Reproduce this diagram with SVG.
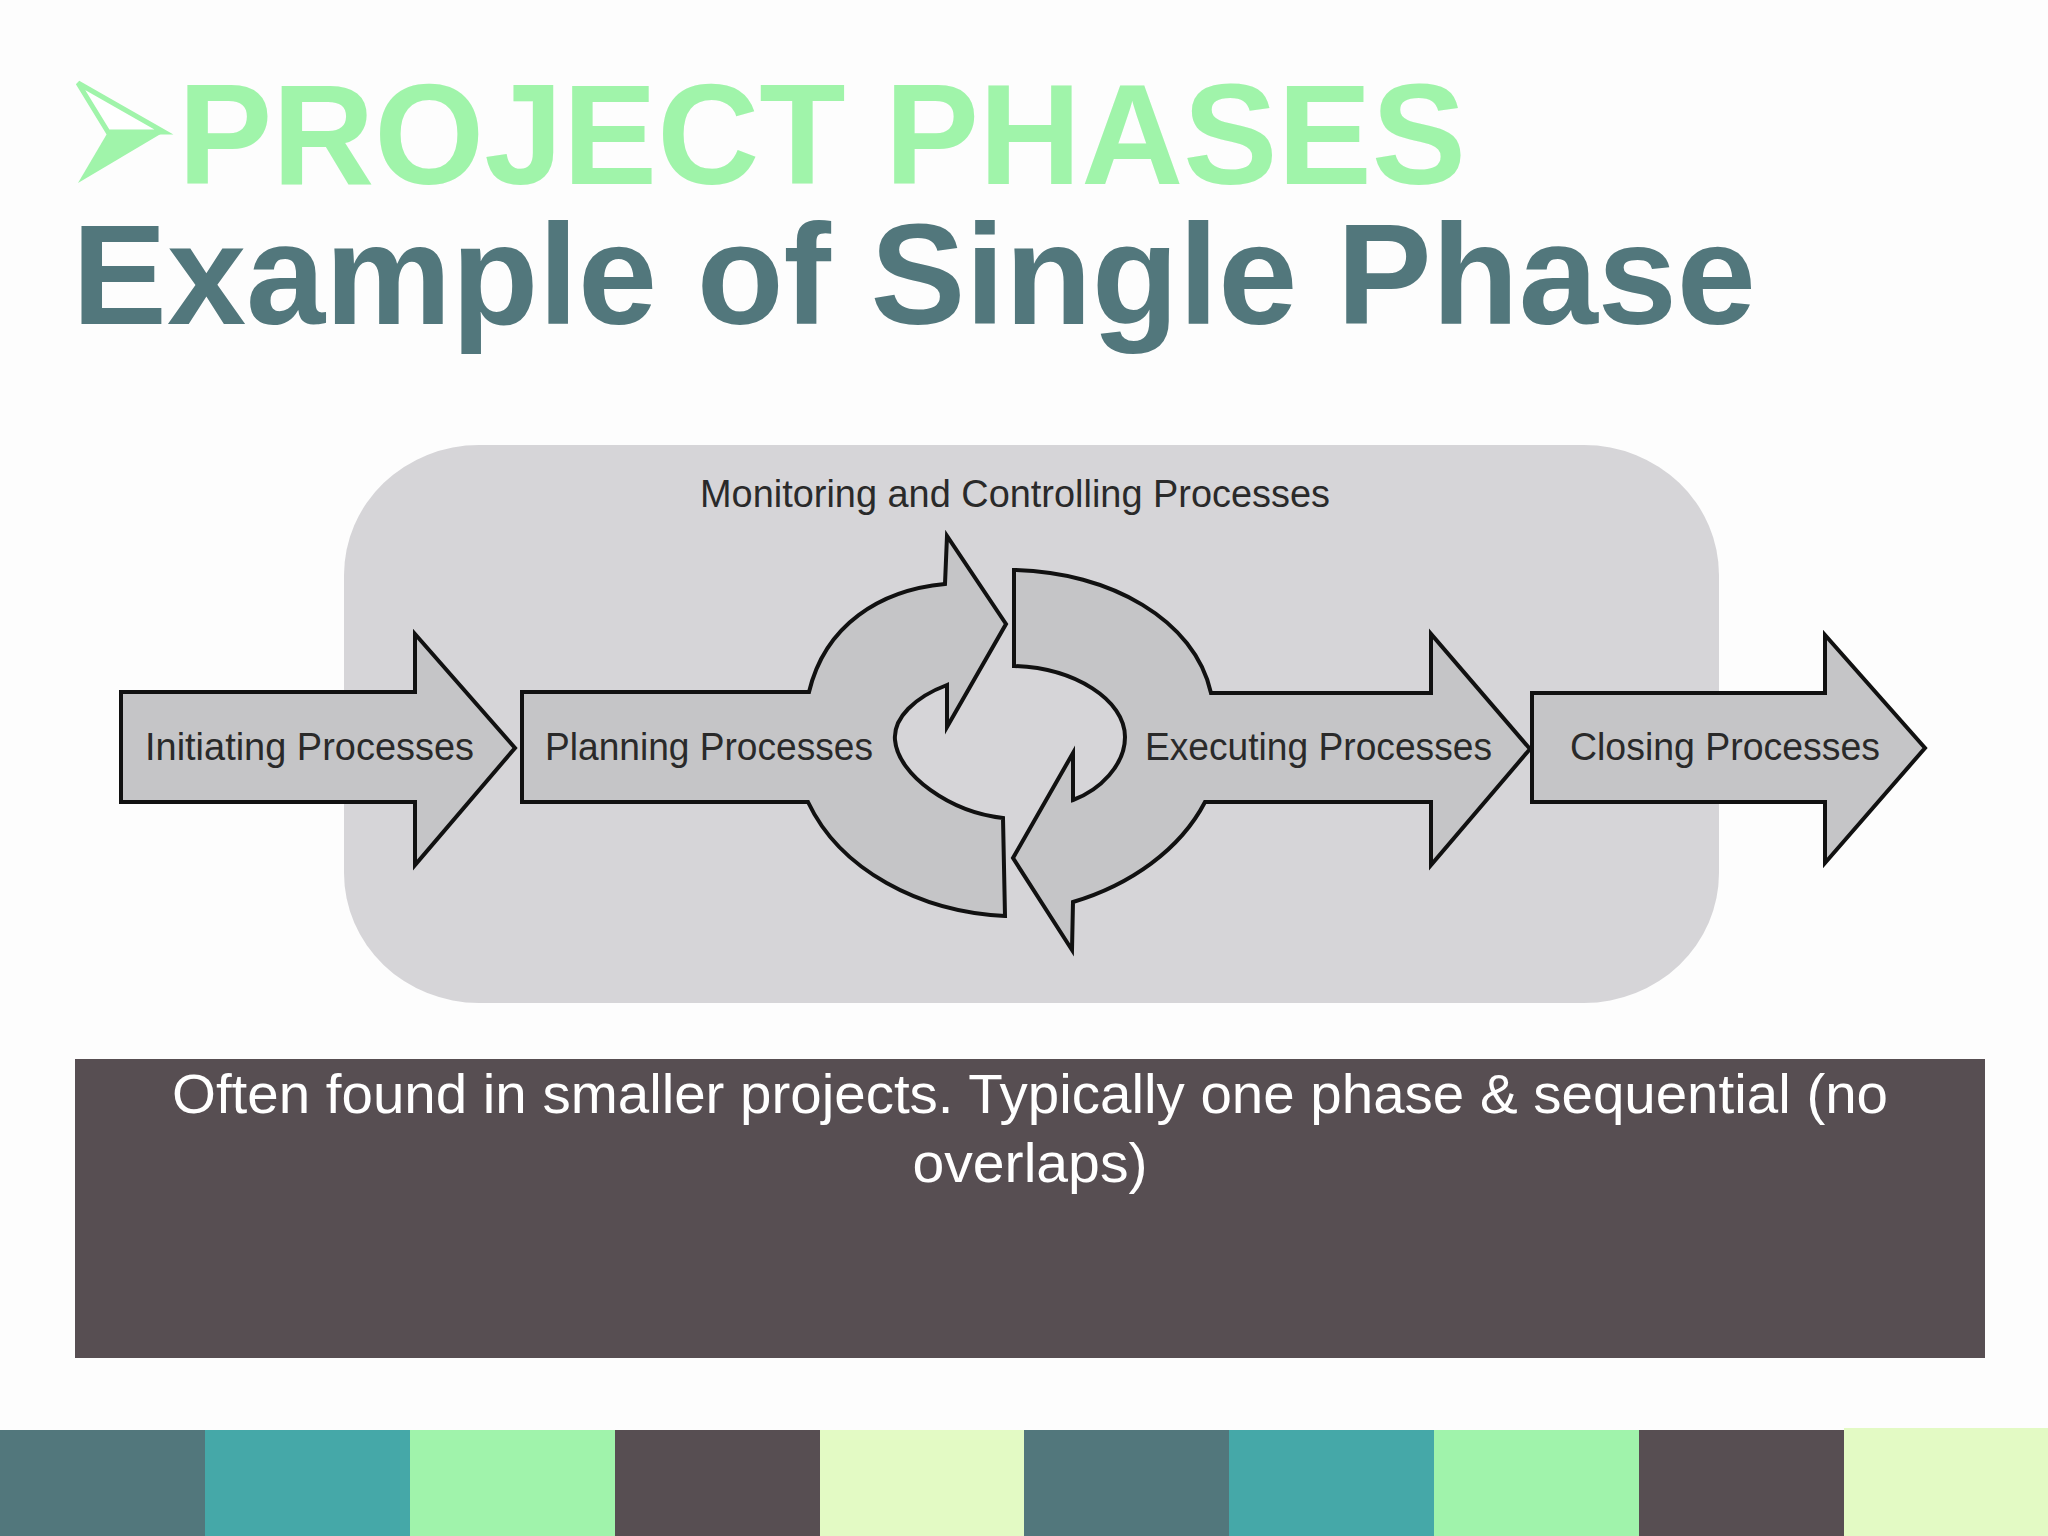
<svg xmlns="http://www.w3.org/2000/svg" width="2048" height="1536" viewBox="0 0 2048 1536">
  <style>
    .arrow { fill: #c5c5c7; stroke: #111; stroke-width: 4; stroke-linejoin: miter; }
    .lbl { font-family: "Liberation Sans", Arial, sans-serif; font-size: 38px; fill: #2a2a2a; }
    .title { font-family: "Liberation Sans", Arial, sans-serif; font-weight: bold; font-size: 142px; }
    .note { font-family: "Liberation Sans", Arial, sans-serif; font-size: 56px; fill: #ffffff; text-anchor: middle; }
  </style>
  <rect x="0" y="0" width="2048" height="1536" fill="#fdfdfd"/>

  <g id="heading">
    <polygon points="78,83 164,132 108,132" fill="#ffffff" stroke="#a0f4aa" stroke-width="5" stroke-linejoin="miter"/>
    <polygon points="108,132 164,132 78,183" fill="#a0f4aa"/>
    <text class="title" x="178" y="184" fill="#a0f4aa" textLength="1288" lengthAdjust="spacingAndGlyphs">PROJECT PHASES</text>
    <text class="title" x="72" y="324" fill="#52777c" textLength="1684" lengthAdjust="spacingAndGlyphs">Example of Single Phase</text>
  </g>

  <g id="monitoring">
    <rect x="344" y="445" width="1375" height="558" rx="135" ry="130" fill="#d6d5d8"/>
    <text class="lbl" x="700" y="507" textLength="630" lengthAdjust="spacingAndGlyphs">Monitoring and Controlling Processes</text>
  </g>

  <g id="initiating">
    <path class="arrow" d="M 121 692 L 415 692 L 415 634 L 515 748 L 415 865 L 415 802 L 121 802 Z"/>
    <text class="lbl" x="145" y="760" textLength="329" lengthAdjust="spacingAndGlyphs">Initiating Processes</text>
  </g>

  <g id="planning">
    <path class="arrow" d="M 522 692 L 809 692 C 825 625, 880 590, 945 584 L 947 536 L 1006 624 L 947 727 L 947 685 C 915 697, 893 718, 895 740 C 898 775, 950 812, 1003 818 L 1005 916 C 920 912, 840 870, 808 802 L 522 802 Z"/>
    <text class="lbl" x="545" y="760" textLength="328" lengthAdjust="spacingAndGlyphs">Planning Processes</text>
  </g>

  <g id="executing">
    <path class="arrow" d="M 1014 570 L 1014 666 C 1075 668, 1125 700, 1125 737 C 1125 765, 1100 790, 1073 800 L 1073 753 L 1013 858 L 1072 950 L 1073 902 C 1130 885, 1180 850, 1205 802 L 1431 802 L 1431 865 L 1530 749 L 1431 634 L 1431 693 L 1211 693 C 1195 620, 1110 572, 1014 570 Z"/>
    <text class="lbl" x="1145" y="760" textLength="347" lengthAdjust="spacingAndGlyphs">Executing Processes</text>
  </g>

  <g id="closing">
    <path class="arrow" d="M 1532 693 L 1825 693 L 1825 635 L 1925 748 L 1825 863 L 1825 802 L 1532 802 Z"/>
    <text class="lbl" x="1570" y="760" textLength="310" lengthAdjust="spacingAndGlyphs">Closing Processes</text>
  </g>

  <g id="connectors"></g>

  <g id="note">
    <rect x="75" y="1059" width="1910" height="299" fill="#574e52"/>
    <text class="note" x="1030" y="1113" textLength="1716" lengthAdjust="spacingAndGlyphs">Often found in smaller projects. Typically one phase &amp; sequential (no</text>
    <text class="note" x="1030" y="1182" textLength="235" lengthAdjust="spacingAndGlyphs">overlaps)</text>
  </g>

  <g id="stripes">
    <rect x="0" y="1430" width="205" height="106" fill="#52777c"/>
    <rect x="205" y="1430" width="205" height="106" fill="#45a8a8"/>
    <rect x="410" y="1430" width="205" height="106" fill="#a0f3ab"/>
    <rect x="615" y="1430" width="205" height="106" fill="#574e52"/>
    <rect x="820" y="1430" width="204" height="106" fill="#e3fac4"/>
    <rect x="1024" y="1430" width="205" height="106" fill="#52777c"/>
    <rect x="1229" y="1430" width="205" height="106" fill="#45a8a8"/>
    <rect x="1434" y="1430" width="205" height="106" fill="#a0f3ab"/>
    <rect x="1639" y="1430" width="205" height="106" fill="#574e52"/>
    <rect x="1844" y="1428" width="204" height="108" fill="#e3fac4"/>
  </g>
</svg>
